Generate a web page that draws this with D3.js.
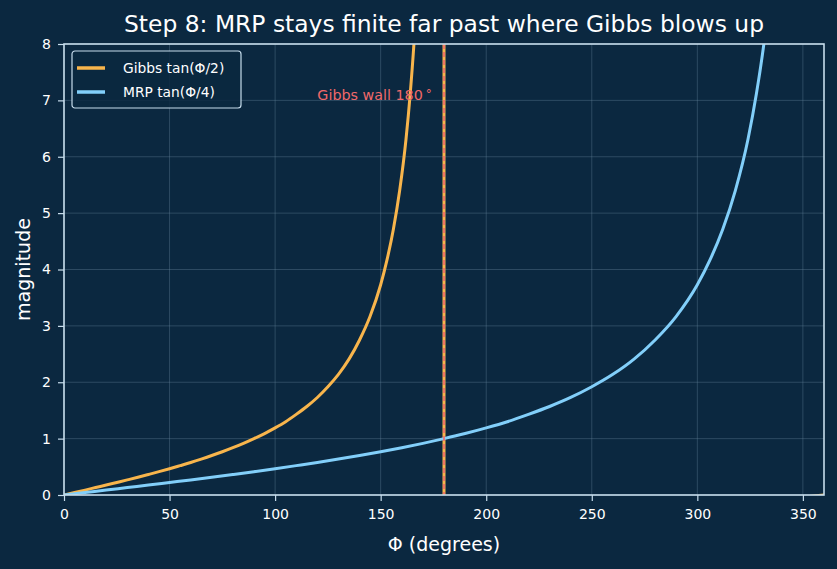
<!DOCTYPE html>
<html>
<head>
<meta charset="utf-8">
<script src="https://cdn.jsdelivr.net/npm/d3@7"></script>
<style>
  body { margin: 0; background: #0b2840; }
  text { font-family: "DejaVu Sans", sans-serif; }
</style>
</head>
<body>
<div id="chart-area"></div>
<script>
// values
const gibbsPhi = [0, 5, 10, 15, 20, 25, 30, 35, 40, 45, 50, 55, 60, 65, 70, 75, 80, 85, 90, 95, 100, 105, 110, 115, 120, 125, 130,
  135, 140, 145, 150, 153, 156, 159, 162, 164, 166, 168, 170, 175, 179.9,
  180.1, 185, 190, 200, 220, 250, 280, 310, 340, 350, 360]
const gibbsVal = [0, 0.044, 0.087, 0.132, 0.176, 0.222, 0.268, 0.315, 0.364, 0.414, 0.466, 0.521, 0.577, 0.637, 0.700, 0.767, 0.839, 0.916, 1.0, 1.09, 1.19, 1.30, 1.43, 1.57, 1.73, 1.92, 2.14,
  2.41, 2.75, 3.17, 3.73, 4.17, 4.71, 5.40, 6.31, 7.12, 8.14, 9.51, 11.4, 22.9, 1000,
  -1000, -22.9, -11.4, -5.67, -2.75, -1.19, -0.58, -0.27, -0.09, -0.04, 0]
const mrpPhi = [0, 10, 20, 30, 40, 50, 60, 70, 80, 90, 100, 110, 120, 130, 140, 150, 160, 170, 180, 190, 200, 210, 220, 230, 240,
  250, 260, 270, 280, 290, 300, 306, 312, 318, 324, 328, 332, 336]
const mrpVal = [0, 0.044, 0.087, 0.132, 0.176, 0.222, 0.268, 0.315, 0.364, 0.414, 0.466, 0.521, 0.577, 0.637, 0.700, 0.767, 0.839, 0.916, 1.0, 1.09, 1.19, 1.30, 1.43, 1.57, 1.73,
  1.92, 2.14, 2.41, 2.75, 3.17, 3.73, 4.17, 4.71, 5.40, 6.31, 7.12, 8.14, 9.51]
const xTicks = [0, 50, 100, 150, 200, 250, 300, 350]
const yTicks = [0, 1, 2, 3, 4, 5, 6, 7, 8]
const wallPhi = 180

const W = 837, H = 569
const MARGIN = { LEFT: 64, RIGHT: 13, TOP: 44, BOTTOM: 74 }
const WIDTH = W - MARGIN.LEFT - MARGIN.RIGHT
const HEIGHT = H - MARGIN.TOP - MARGIN.BOTTOM

const BG = "#0b2840", FG = "#ffffff", SPINE = "#c6dcec"
const ORANGE = "#f8b54c", BLUE = "#82cffa", RED = "#f0686a"

const svg = d3.select("#chart-area").append("svg")
  .attr("width", W)
  .attr("height", H)
  .style("background", BG)

const g = svg.append("g")
  .attr("transform", `translate(${MARGIN.LEFT}, ${MARGIN.TOP})`)

const x = d3.scaleLinear().domain([0, 360]).range([0, WIDTH])
const y = d3.scaleLinear().domain([0, 8]).range([HEIGHT, 0])

// grid
g.append("g").selectAll("line").data(xTicks).join("line")
  .attr("x1", d => x(d)).attr("x2", d => x(d))
  .attr("y1", 0).attr("y2", HEIGHT)
  .attr("stroke", "#6a88a0").attr("stroke-opacity", 0.45).attr("stroke-width", 0.8)
g.append("g").selectAll("line").data(yTicks).join("line")
  .attr("x1", 0).attr("x2", WIDTH)
  .attr("y1", d => y(d)).attr("y2", d => y(d))
  .attr("stroke", "#6a88a0").attr("stroke-opacity", 0.45).attr("stroke-width", 0.8)

svg.append("clipPath").attr("id", "clip")
  .append("rect").attr("width", WIDTH).attr("height", HEIGHT)

const plot = g.append("g").attr("clip-path", "url(#clip)")

const line = d3.line()
  .x(d => x(d[0]))
  .y(d => y(d[1]))
  .curve(d3.curveMonotoneX)

plot.append("path")
  .attr("fill", "none")
  .attr("stroke", ORANGE)
  .attr("stroke-width", 3)
  .attr("d", line(d3.zip(gibbsPhi, gibbsVal)))

plot.append("path")
  .attr("fill", "none")
  .attr("stroke", BLUE)
  .attr("stroke-width", 3)
  .attr("d", line(d3.zip(mrpPhi, mrpVal)))

// Gibbs wall
plot.append("line")
  .attr("x1", x(wallPhi)).attr("x2", x(wallPhi))
  .attr("y1", 0).attr("y2", HEIGHT)
  .attr("stroke", RED)
  .attr("stroke-width", 1.6)
  .attr("stroke-dasharray", "5,3")

const wall = g.append("text")
  .attr("x", x(120)).attr("y", y(7) - 0.5)
  .attr("fill", RED)
  .attr("font-size", "14.3px")
  .text("Gibbs wall 180")
wall.append("tspan").attr("dx", 3).attr("dy", -2).attr("font-size", "12px").text("°")

// frame
g.append("rect")
  .attr("width", WIDTH).attr("height", HEIGHT)
  .attr("fill", "none").attr("stroke", SPINE).attr("stroke-width", 1.6)

// axes
const xAxis = g.append("g")
  .attr("transform", `translate(0, ${HEIGHT})`)
  .call(d3.axisBottom(x).tickValues(xTicks).tickSize(6).tickPadding(8))
const yAxis = g.append("g")
  .call(d3.axisLeft(y).tickValues(yTicks).tickSize(6).tickPadding(7))
;[xAxis, yAxis].forEach(a => {
  a.select(".domain").remove()
  a.selectAll(".tick line").attr("stroke", SPINE).attr("stroke-width", 1.2)
  a.selectAll(".tick text").attr("fill", FG).attr("font-size", "14px")
    .attr("font-family", "DejaVu Sans, sans-serif")
})

// labels
svg.append("text")
  .attr("x", MARGIN.LEFT + WIDTH / 2).attr("y", 32)
  .attr("text-anchor", "middle")
  .attr("fill", FG)
  .attr("font-size", "23.4px")
  .text("Step 8: MRP stays finite far past where Gibbs blows up")

svg.append("text")
  .attr("x", MARGIN.LEFT + WIDTH / 2).attr("y", 551)
  .attr("text-anchor", "middle")
  .attr("fill", FG)
  .attr("font-size", "19px")
  .text("Φ (degrees)")

svg.append("text")
  .attr("transform", `translate(30, ${MARGIN.TOP + HEIGHT / 2}) rotate(-90)`)
  .attr("text-anchor", "middle")
  .attr("fill", FG)
  .attr("font-size", "19px")
  .text("magnitude")

// legend
const legend = g.append("g").attr("transform", "translate(8, 7)")
legend.append("rect")
  .attr("width", 169).attr("height", 57).attr("rx", 3)
  .attr("fill", BG).attr("fill-opacity", 0.85)
  .attr("stroke", SPINE).attr("stroke-width", 1.2)
const items = [
  { label: "Gibbs tan(Φ/2)", color: ORANGE },
  { label: "MRP tan(Φ/4)", color: BLUE }
]
items.forEach((it, i) => {
  const row = legend.append("g").attr("transform", `translate(0, ${17 + i * 24})`)
  row.append("line").attr("x1", 5).attr("x2", 33)
    .attr("stroke", it.color).attr("stroke-width", 3.5)
  row.append("text").attr("x", 51).attr("dy", "0.35em")
    .attr("fill", FG).attr("font-size", "13.8px")
    .text(it.label)
})
</script>
</body>
</html>
